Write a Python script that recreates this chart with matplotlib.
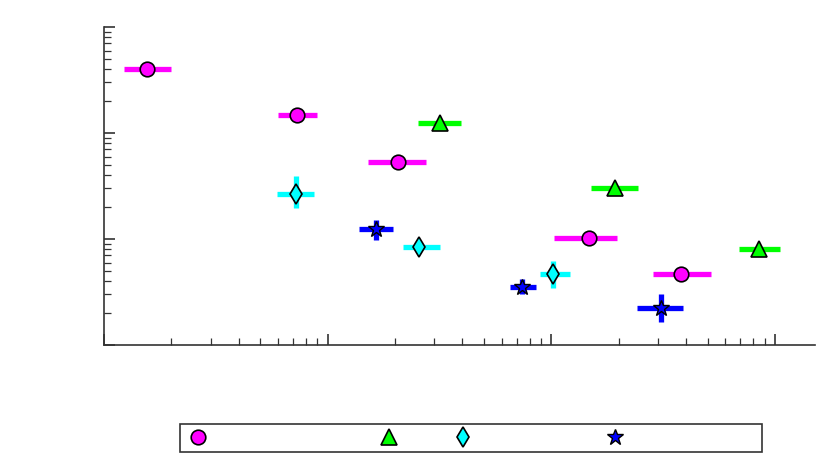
import numpy as np
import matplotlib
matplotlib.use('Agg')
import matplotlib.pyplot as plt

# magenta circles
circ_x = [1.56, 7.26, 20.6, 146.6, 378.8]
circ_xlo = [1.23, 5.97, 15.1, 103.2, 283.8]
circ_xhi = [2.00, 8.93, 27.5, 195.6, 516.4]
circ_y = [4.02, 1.479, 0.533, 0.1022, 0.0468]

# green triangles
tri_x = [31.8, 191.7, 847.8]
tri_xlo = [25.3, 151.1, 689.6]
tri_xhi = [39.5, 243.0, 1053.0]
tri_y = [1.229, 0.306, 0.0796]

# cyan diamonds
dia_x = [7.19, 25.6, 102.1]
dia_xlo = [5.91, 21.7, 89.3]
dia_xhi = [8.65, 31.8, 121.7]
dia_y = [0.2657, 0.084, 0.0468]
dia_ylo = [0.196, 0.084, 0.0345]
dia_yhi = [0.393, 0.084, 0.062]

# blue stars
star_x = [16.4, 74.1, 308.2]
star_xlo = [13.8, 65.5, 240.5]
star_xhi = [19.6, 85.7, 386.7]
star_y = [0.1243, 0.0352, 0.02234]
star_ylo = [0.0978, 0.0303, 0.01648]
star_yhi = [0.151, 0.0419, 0.0303]


def err(x, lo, hi):
    x = np.array(x)
    return [x - np.array(lo), np.array(hi) - x]


fig = plt.figure(figsize=(8.3, 4.63), dpi=100)
ax = fig.add_axes([0.1253, 0.2549, 0.857, 0.6868])

h1 = ax.errorbar(circ_x, circ_y, xerr=err(circ_x, circ_xlo, circ_xhi), fmt='o',
                 color='#ff00ff', ecolor='#ff00ff', elinewidth=3.8, capsize=0,
                 mfc='#ff00ff', mec='black', mew=1.2, ms=10.5)
h2 = ax.errorbar(tri_x, tri_y, xerr=err(tri_x, tri_xlo, tri_xhi), fmt='^',
                 color='#00ff00', ecolor='#00ff00', elinewidth=3.8, capsize=0,
                 mfc='#00ff00', mec='black', mew=1.2, ms=11)
h3 = ax.errorbar(dia_x, dia_y, xerr=err(dia_x, dia_xlo, dia_xhi),
                 yerr=err(dia_y, dia_ylo, dia_yhi), fmt='d',
                 color='#00ffff', ecolor='#00ffff', elinewidth=3.8, capsize=0,
                 mfc='#00ffff', mec='black', mew=1.2, ms=10.5)
h4 = ax.errorbar(star_x, star_y, xerr=err(star_x, star_xlo, star_xhi),
                 yerr=err(star_y, star_ylo, star_yhi), fmt='*',
                 color='#0000ff', ecolor='#0000ff', elinewidth=3.8, capsize=0,
                 mfc='#0000ff', mec='black', mew=1.0, ms=12)

ax.set_xscale('log')
ax.set_yscale('log')
ax.set_xlim(1, 10 ** 3.18)
ax.set_ylim(0.01, 10)

for s in ['top', 'right']:
    ax.spines[s].set_visible(False)
for s in ['left', 'bottom']:
    ax.spines[s].set_color('#333333')
    ax.spines[s].set_linewidth(1.2)
ax.tick_params(which='both', direction='in', labelleft=False, labelbottom=False,
               color='#333333')
ax.tick_params(which='major', length=8, width=1.2)
ax.tick_params(which='minor', length=5, width=0.9)

labels = [' ' * 36, ' ' * 9, ' ' * 27, ' ' * 28]
leg = fig.legend([h1[0], h2[0], h3[0], h4[0]], labels, ncol=4,
                 loc='center', bbox_to_anchor=(0.5675, 0.054),
                 fontsize=10, handlelength=1.5, handletextpad=0.5,
                 columnspacing=0.45, borderpad=0.5, fancybox=False,
                 framealpha=1, edgecolor='#333333')
leg.get_frame().set_linewidth(1.2)

plt.savefig('out.png', dpi=100)
